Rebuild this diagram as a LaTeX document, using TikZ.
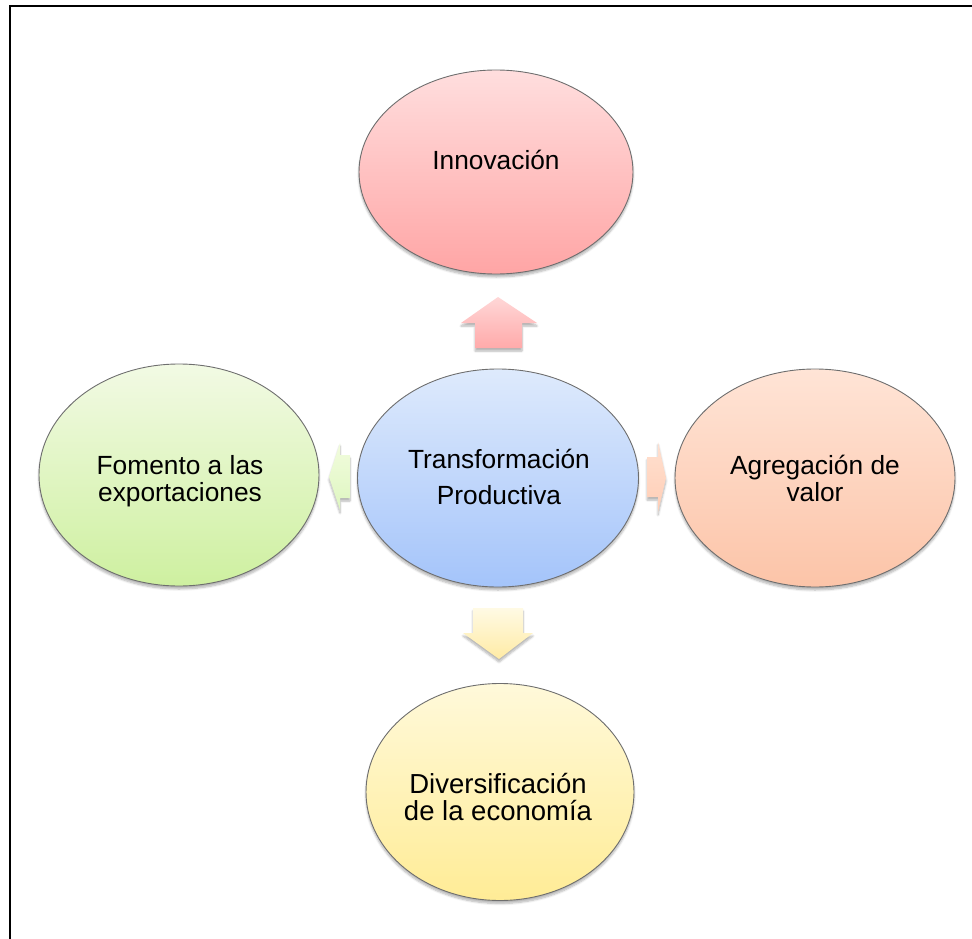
\documentclass[tikz,border=0pt]{standalone}
\usepackage{fontspec}
\setmainfont{Liberation Sans}
\usetikzlibrary{shapes.geometric,shadows.blur}
\definecolor{innTop}{RGB}{255,222,222}
\definecolor{innBot}{RGB}{255,165,165}
\definecolor{cenTop}{RGB}{222,234,252}
\definecolor{cenBot}{RGB}{164,196,250}
\definecolor{fomTop}{RGB}{242,250,228}
\definecolor{fomBot}{RGB}{206,240,160}
\definecolor{agrTop}{RGB}{255,228,214}
\definecolor{agrBot}{RGB}{252,196,168}
\definecolor{divTop}{RGB}{255,249,218}
\definecolor{divBot}{RGB}{255,236,150}
\definecolor{upTop}{RGB}{255,215,215}
\definecolor{upBot}{RGB}{255,170,170}
\definecolor{dnTop}{RGB}{255,250,228}
\definecolor{dnBot}{RGB}{255,235,165}
\definecolor{ltTop}{RGB}{242,252,222}
\definecolor{ltBot}{RGB}{222,246,192}
\definecolor{rtTop}{RGB}{255,224,208}
\definecolor{rtBot}{RGB}{255,206,182}
\definecolor{rim}{RGB}{110,110,110}
\begin{document}
\begin{tikzpicture}[x=1pt,y=-1pt,
  softshadow/.style={blur shadow={shadow xshift=0pt, shadow yshift=-3pt, shadow blur steps=6, shadow opacity=30}},
  bub/.style={ellipse, draw=rim, line width=0.9pt, inner sep=0pt, softshadow},
  lbl/.style={font=\fontsize{26.3}{28}\selectfont, inner sep=0pt, anchor=base},
  biglbl/.style={lbl, font=\fontsize{27.5}{30}\selectfont}]
\useasboundingbox (0,0) rectangle (972,939);
\draw[line width=2pt] (10,939) -- (10,6) -- (972,6);

% arrows
\path[softshadow, top color=upTop, bottom color=upBot]
  (475,348) -- (475,323) -- (461,323) -- (498,297) -- (537,323) -- (522,323) -- (522,348) -- cycle;
\path[softshadow, top color=dnTop, bottom color=dnBot]
  (473,608) -- (523,608) -- (523,633) -- (533,633) -- (499,659) -- (463,633) -- (473,633) -- cycle;
\path[softshadow, top color=ltTop, bottom color=ltBot]
  (350,455) -- (340,455) -- (340,443) -- (329,477) -- (340,510) -- (340,498) -- (350,498) -- cycle;
\path[softshadow, top color=rtTop, bottom color=rtBot]
  (647,457) -- (658,457) -- (658,442) -- (666,478) -- (658,512) -- (658,497) -- (647,497) -- cycle;

% bubbles
\node[bub, minimum width=274pt, minimum height=204pt, top color=innTop, bottom color=innBot] (inn) at (496,172) {};
\node[bub, minimum width=281pt, minimum height=218pt, top color=cenTop, bottom color=cenBot] (cen) at (498,478) {};
\node[bub, minimum width=280pt, minimum height=222pt, top color=fomTop, bottom color=fomBot] (fom) at (179,475) {};
\node[bub, minimum width=280pt, minimum height=218pt, top color=agrTop, bottom color=agrBot] (agr) at (815,478) {};
\node[bub, minimum width=268pt, minimum height=217pt, top color=divTop, bottom color=divBot] (div) at (500,792) {};

% labels
\node[lbl] (innA) at (496,169) {Innovación};
\node[lbl] (cenA) at (499,468) {Transformación};
\node[lbl] (cenB) at (499,504) {Productiva};
\node[lbl] (fomA) at (180,474) {Fomento a las};
\node[lbl] (fomB) at (180,501) {exportaciones};
\node[lbl] (agrA) at (815,474) {Agregación de};
\node[lbl] (agrB) at (815,501) {valor};
\node[biglbl] (divA) at (498,793) {Diversificación};
\node[biglbl] (divB) at (498,820) {de la economía};
\end{tikzpicture}
\end{document}
